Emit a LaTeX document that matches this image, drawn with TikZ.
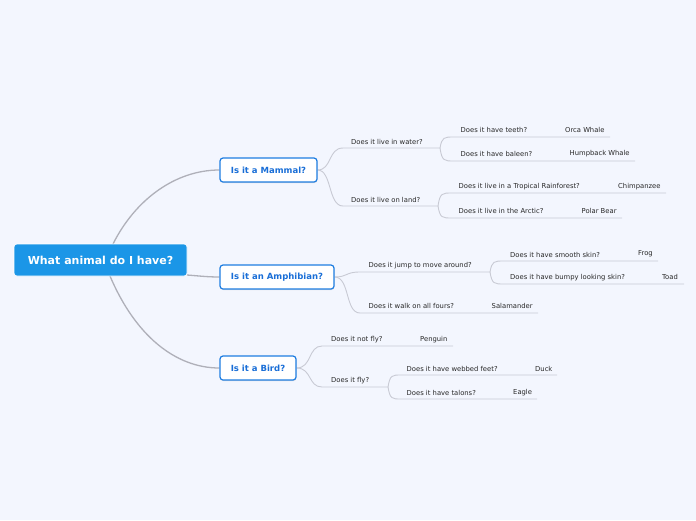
\documentclass[tikz,border=0pt]{standalone}
\usepackage{fontspec}
\setmainfont{DejaVu Sans}
\usetikzlibrary{shadows}
\pgfdeclarelayer{background}
\pgfsetlayers{background,main}
\definecolor{bg}{RGB}{243,246,254}
\definecolor{rootblue}{RGB}{27,150,231}
\definecolor{boxblue}{RGB}{30,125,225}
\definecolor{txtblue}{RGB}{25,110,215}
\definecolor{mainline}{RGB}{175,176,185}
\definecolor{subline}{RGB}{200,202,212}
\definecolor{lbltxt}{RGB}{40,40,40}
\tikzset{
  rootnode/.style={fill=rootblue, draw=white, line width=0.6pt, rounded corners=3pt, text=white,
    font=\fontsize{11}{13}\selectfont\bfseries, minimum width=173pt, minimum height=32pt, inner sep=0pt},
  catnode/.style={fill=white, draw=boxblue, line width=1.2pt, rounded corners=3pt, text=txtblue,
    font=\fontsize{8.5}{10}\selectfont\bfseries, minimum height=24pt, inner sep=0pt,
    drop shadow={opacity=0.25, shadow xshift=0.4pt, shadow yshift=-1pt}},
  lbl/.style={font=\fontsize{6.8}{8}\selectfont, text=lbltxt, anchor=west, inner sep=0pt, yshift=-1pt},
  mainconn/.style={draw=mainline, line width=1.3pt},
  subconn/.style={draw=subline, line width=0.9pt},
}
\begin{document}
\begin{tikzpicture}[x=1pt,y=-1pt]
\begin{pgfonlayer}{background}
\fill[bg] (0,0) rectangle (696,520);
\end{pgfonlayer}
\useasboundingbox (0,0) rectangle (696,520);

\coordinate (rtop) at (113,244);
\coordinate (rbot) at (110,276);
\coordinate (rright) at (187,275);

% root and categories
\node[rootnode] (root) at (100.5,260) {What animal do I have?};
\node[catnode, minimum width=97pt] (mam) at (268.5,170) {Is it a Mammal?};
\node[catnode, minimum width=114pt] (amp) at (277,277) {Is it an Amphibian?};
\node[catnode, minimum width=76pt] (bird) at (258,368) {Is it a Bird?};

% ---------- Mammal ----------
\coordinate (w0) at (343,148); \coordinate (w1) at (440,148);
\coordinate (l0) at (343,206); \coordinate (l1) at (438,206);
\node[lbl] (water) at (351,141) {Does it live in water?};
\node[lbl] (land) at (351,198.5) {Does it live on land?};

\coordinate (t0) at (454,137); \coordinate (t1) at (610,137);
\coordinate (b0) at (454,161); \coordinate (b1) at (635,161);
\node[lbl] (teeth) at (460.5,129) {Does it have teeth?};
\node[lbl] (orca) at (565,128.5) {Orca Whale};
\node[lbl] (baleen) at (460.5,153) {Does it have baleen?};
\node[lbl] (humpback) at (569.5,152.5) {Humpback Whale};

\coordinate (r0) at (452,193); \coordinate (r1) at (666,193);
\coordinate (a0) at (452,218); \coordinate (a1) at (622,218);
\node[lbl] (rain) at (458.5,186) {Does it live in a Tropical Rainforest?};
\node[lbl] (chimp) at (618,186) {Chimpanzee};
\node[lbl] (arctic) at (458.5,210) {Does it live in the Arctic?};
\node[lbl] (polar) at (581.5,210) {Polar Bear};

% ---------- Amphibian ----------
\coordinate (j0) at (360,272); \coordinate (j1) at (490,272);
\coordinate (f0) at (360,313); \coordinate (f1) at (538,313);
\node[lbl] (jump) at (368.5,264.5) {Does it jump to move around?};
\node[lbl] (fours) at (368.5,305) {Does it walk on all fours?};
\node[lbl] (sala) at (491.5,305) {Salamander};

\coordinate (s0) at (504,261); \coordinate (s1) at (658,261);
\coordinate (k0) at (504,284); \coordinate (k1) at (684,284);
\node[lbl] (smooth) at (510,253.5) {Does it have smooth skin?};
\node[lbl] (frog) at (638,252.5) {Frog};
\node[lbl] (bumpy) at (510,277) {Does it have bumpy looking skin?};
\node[lbl] (toad) at (662,276) {Toad};

% ---------- Bird ----------
\coordinate (n0) at (322,346); \coordinate (n1) at (453,346);
\coordinate (y0) at (322,387); \coordinate (y1) at (388,387);
\node[lbl] (notfly) at (331,338.5) {Does it not fly?};
\node[lbl] (penguin) at (420,338.5) {Penguin};
\node[lbl] (fly) at (331,379.5) {Does it fly?};

\coordinate (d0) at (401,375); \coordinate (d1) at (557,375);
\coordinate (e0) at (401,399); \coordinate (e1) at (537,399);
\node[lbl] (webbed) at (406.5,367.5) {Does it have webbed feet?};
\node[lbl] (duck) at (535,367.5) {Duck};
\node[lbl] (talons) at (406.5,391.5) {Does it have talons?};
\node[lbl] (eagle) at (513,391.5) {Eagle};

% ---------- connectors ----------
\begin{pgfonlayer}{background}
\draw[mainconn] (rtop) .. controls (135,200) and (175,170) .. (mam.west);
\draw[mainconn] (rright) .. controls (200,276) and (208,277) .. (amp.west);
\draw[mainconn] (rbot) .. controls (135,335) and (175,368) .. (bird.west);

% mammal
\draw[subconn] (mam.east) .. controls (332,170) and (328,148) .. (w0) -- (w1);
\draw[subconn] (mam.east) .. controls (332,170) and (328,206) .. (l0) -- (l1);
\draw[subconn] (w1) .. controls (442,137) and (444,137) .. (t0) -- (t1);
\draw[subconn] (w1) .. controls (442,161) and (444,161) .. (b0) -- (b1);
\draw[subconn] (l1) .. controls (440,193) and (442,193) .. (r0) -- (r1);
\draw[subconn] (l1) .. controls (440,218) and (442,218) .. (a0) -- (a1);

% amphibian
\draw[subconn] (amp.east) .. controls (348,277) and (345,272) .. (j0) -- (j1);
\draw[subconn] (amp.east) .. controls (350,277) and (345,313) .. (f0) -- (f1);
\draw[subconn] (j1) .. controls (492,261) and (494,261) .. (s0) -- (s1);
\draw[subconn] (j1) .. controls (492,284) and (494,284) .. (k0) -- (k1);

% bird
\draw[subconn] (bird.east) .. controls (312,368) and (308,346) .. (n0) -- (n1);
\draw[subconn] (bird.east) .. controls (312,368) and (308,387) .. (y0) -- (y1);
\draw[subconn] (y1) .. controls (390,375) and (392,375) .. (d0) -- (d1);
\draw[subconn] (y1) .. controls (390,399) and (392,399) .. (e0) -- (e1);
\end{pgfonlayer}
\end{tikzpicture}
\end{document}
